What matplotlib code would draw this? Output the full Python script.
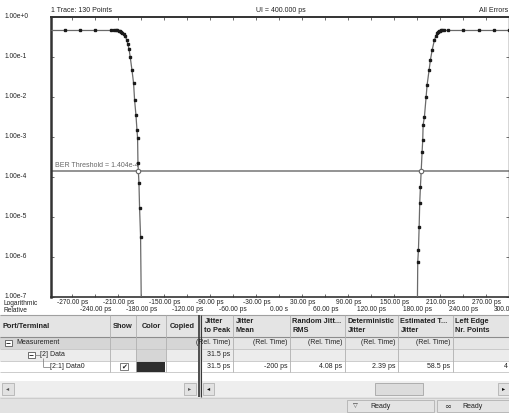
import matplotlib
matplotlib.use("Agg")
import matplotlib.pyplot as plt
from matplotlib.patches import Rectangle
from matplotlib.transforms import blended_transform_factory

plt.rcParams['font.family'] = ['Liberation Sans', 'DejaVu Sans']

# bathtub curve, left edge (time in ps, BER)
left_ps = [-300, -280, -260, -240, -220, -216, -213, -211, -209, -207.5, -206, -204.5,
           -203, -201, -199, -197.5, -196, -194.4, -192.1, -190.0, -188.7, -186.9,
           -185.6, -184.8, -184.3, -183.0, -182.2, -180.9, -179.5]
left_ber = [0.46, 0.46, 0.46, 0.46, 0.46, 0.46, 0.46, 0.46, 0.45, 0.44, 0.42, 0.40,
            0.37, 0.33, 0.27, 0.21, 0.16, 0.10, 0.047, 0.022, 8.4e-3, 3.5e-3,
            1.5e-3, 9.4e-4, 2.2e-4, 7e-5, 1.7e-5, 3.2e-6, 1e-8]

# bathtub curve, right edge
right_ps = [179.6, 180.4, 181.3, 182.2, 183.0, 183.9, 186.1, 186.9, 187.4, 189.1,
            191.3, 192.6, 195.2, 196.9, 199.2, 202.2, 204.0, 205.7, 207.0, 208.3,
            209.3, 210.5, 212, 215, 220, 240, 260, 280, 300]
right_ber = [1e-8, 7.6e-7, 1.5e-6, 5.5e-6, 2.3e-5, 5.7e-5, 4.3e-4, 8.4e-4, 2.0e-3, 3.2e-3,
             1.0e-2, 2.0e-2, 4.7e-2, 8.4e-2, 0.15, 0.27, 0.33, 0.39, 0.42, 0.44,
             0.45, 0.46, 0.46, 0.46, 0.46, 0.46, 0.46, 0.46, 0.46]

threshold = 1.404e-4
cross_ps = [-183.6, 184.6]

tick_ps = list(range(-270, 301, 30))
ytick_vals = [1e0, 1e-1, 1e-2, 1e-3, 1e-4, 1e-5, 1e-6, 1e-7]
ytick_labels = ['1.00e+0', '1.00e-1', '1.00e-2', '1.00e-3', '1.00e-4', '1.00e-5', '1.00e-6', '1.00e-7']

header_left = ['Port/Terminal', 'Show', 'Color', 'Copied']
header_right = ['Jitter\nto Peak', 'Jitter\nMean', 'Random Jitt...\nRMS',
                'Deterministic\nJitter', 'Estimated T...\nJitter', 'Left Edge\nNr. Points']
row_names = ['Measurement', '[2] Data', '[2:1] Data0']
row_meas = ['(Rel. Time)', '(Rel. Time)', '(Rel. Time)', '(Rel. Time)', '(Rel. Time)', '']
row_data = ['31.5 ps', '', '', '', '', '']
row_data0 = ['31.5 ps', '-200 ps', '4.08 ps', '2.39 ps', '58.5 ps', '4']

W, H = 510, 413
fig = plt.figure(figsize=(W / 100, H / 100), dpi=100)
fig.patch.set_facecolor('white')

# overlay in pixel coordinates for the window chrome / table
ov = fig.add_axes([0, 0, 1, 1])
ov.set_xlim(0, W)
ov.set_ylim(H, 0)
ov.axis('off')

FS = 5
TFS = 4.8


def box(x0, y0, x1, y1, fc, ec='none', lw=0.6):
    ov.add_patch(Rectangle((x0, y0), x1 - x0, y1 - y0, facecolor=fc, edgecolor=ec, linewidth=lw))


def hline(y, x0, x1, c='#b8b8b8', lw=0.6):
    ov.plot([x0, x1], [y, y], color=c, lw=lw, solid_capstyle='butt')


def vline(x, y0, y1, c='#b8b8b8', lw=0.6):
    ov.plot([x, x], [y0, y1], color=c, lw=lw, solid_capstyle='butt')


def txt(x, y, s, ha='left', **kw):
    kw.setdefault('fontsize', FS)
    kw.setdefault('color', '#222222')
    ov.text(x, y, s, ha=ha, va='center', **kw)


# ---- chart ----
ax = fig.add_axes([51.5 / W, 1 - 297 / H, 458 / W, 280 / H])
ax.set_yscale('log')
ax.set_ylim(1e-7, 1)
ax.set_xlim(-297, 300)

ax.axhline(threshold, color='#8a8a8a', lw=1.3, zorder=2)
for xs, ys in [(left_ps, left_ber), (right_ps, right_ber)]:
    ax.plot(xs, ys, color='#6a6a6a', lw=0.9, zorder=3)
    ax.plot(xs, ys, ls='none', marker='s', ms=1.5, color='#1a1a1a', zorder=4)
ax.plot(cross_ps, [threshold] * len(cross_ps), ls='none', marker='o', ms=3.2,
        mfc='white', mec='#666666', mew=0.8, zorder=5)
ax.text(-293, threshold * 1.12, 'BER Threshold = 1.404e-4', fontsize=FS, color='#666666',
        va='bottom', ha='left')

# x tick labels in two staggered rows
def fmt_ps(v):
    return '0.00 s' if v == 0 else f'{v:.2f} ps'

ax.set_xticks(tick_ps)
ax.set_xticklabels([fmt_ps(v) if i % 2 == 0 else '' for i, v in enumerate(tick_ps)],
                   fontsize=TFS, color='#222222')
ax.set_xticks([-150, 0, 150], minor=True)
ax.tick_params(axis='x', which='major', direction='in', length=2.5, width=0.6,
               top=True, pad=1.2, color='#555555')
ax.tick_params(axis='x', which='minor', direction='in', length=5, width=0.6,
               top=True, color='#555555')
row2 = blended_transform_factory(ax.transData, ov.transData)
for i, v in enumerate(tick_ps):
    if i % 2 == 1:
        if v == tick_ps[-1]:
            # the window cuts this last label off at its right border
            ax.text(v - 21, 309.8, fmt_ps(v)[:5], transform=row2, ha='left', va='center',
                    fontsize=TFS, color='#222222', clip_on=False)
        else:
            ax.text(v, 309.8, fmt_ps(v), transform=row2, ha='center', va='center',
                    fontsize=TFS, color='#222222', clip_on=False)

ax.set_yticks(ytick_vals)
ax.set_yticklabels(ytick_labels, fontsize=TFS, color='#222222')
ax.tick_params(axis='y', which='minor', left=False, right=False)
ax.tick_params(axis='y', which='major', direction='in', length=2.5, width=0.6,
               right=True, pad=33.5, color='#555555')
for lab in ax.get_yticklabels():
    lab.set_horizontalalignment('left')
    lab.set_verticalalignment('center')

for side, lw in [('left', 1.8), ('top', 1.4), ('bottom', 1.2), ('right', 1.0)]:
    ax.spines[side].set_linewidth(lw)
    ax.spines[side].set_color('#333333')

txt(51, 10, '1 Trace: 130 Points')
txt(256, 10, 'UI = 400.000 ps')
txt(508, 10, 'All Errors', ha='right')
txt(4, 303.8, 'Logarithmic', fontsize=TFS)
txt(4, 310.2, 'Relative', fontsize=TFS)

# ---- table ----
lcols = [0, 110, 136, 166, 198]
rcols = [202, 233, 290, 345, 398, 453, 510]
rows = [337, 349, 361, 372]
top = 315

box(0, top, W, rows[0], '#e4e4e4')
box(0, rows[0], 198, rows[1], '#d6d6d6')
box(202, rows[0], W, rows[1], '#e6e6e6')
box(0, rows[1], 198, rows[2], '#ececec')
box(136, rows[1], 166, rows[2], '#d6d6d6')
box(202, rows[1], W, rows[2], '#ececec')
box(0, rows[2], W, rows[3], 'white')
box(136.5, rows[2] + 0.5, 165.5, rows[3] - 0.5, '#2e2e2e')

hline(top, 0, W, '#a0a0a0', 0.8)
hline(rows[0], 0, W, '#8c8c8c', 0.8)
for y in rows[1:]:
    hline(y, 0, 198, '#c4c4c4')
    hline(y, 202, W, '#c4c4c4')
for x in lcols[1:-1]:
    vline(x, top, rows[-1], '#b0b0b0')
for x in rcols[1:-1]:
    vline(x, top, rows[-1], '#b0b0b0')

for i, name in enumerate(header_left):
    x0, x1 = lcols[i], lcols[i + 1]
    if i == 0:
        txt(x0 + 3, (top + rows[0]) / 2, name, fontweight='bold', fontsize=5.3)
    else:
        txt((x0 + x1) / 2, (top + rows[0]) / 2, name, ha='center', fontweight='bold', fontsize=5.3)
for i, name in enumerate(header_right):
    txt(rcols[i] + 2.5, (top + rows[0]) / 2, name, fontweight='bold', fontsize=5.3, linespacing=1.25)

# tree column
ym = [(rows[i] + rows[i + 1]) / 2 for i in range(3)]
box(5, ym[0] - 3, 12, ym[0] + 3, 'white', '#555555', 0.6)
hline(ym[0], 6.5, 10.5, '#333333', 0.7)
txt(16, ym[0], row_names[0])
box(28, ym[1] - 3, 35, ym[1] + 3, 'white', '#555555', 0.6)
hline(ym[1], 29.5, 33.5, '#333333', 0.7)
hline(ym[1], 35, 40, '#888888', 0.6)
txt(40.5, ym[1], row_names[1])
vline(43, ym[1] + 3, ym[2], '#888888', 0.6)
hline(ym[2], 43, 50, '#888888', 0.6)
txt(50.5, ym[2], row_names[2])
box(120, ym[2] - 3.5, 128, ym[2] + 3.5, 'white', '#666666', 0.6)
txt(124, ym[2], '\u2714', ha='center', fontsize=5, family=['DejaVu Sans'])

for vals, y in [(row_meas, ym[0]), (row_data, ym[1]), (row_data0, ym[2])]:
    for i, v in enumerate(vals):
        if v:
            txt(rcols[i + 1] - 2.5, y, v, ha='right')

# pane divider
box(198, top, 202, 397, '#cfcfcf')
vline(199, top, 397, '#3a3a3a', 1.2)
vline(201.5, top, 397, '#3a3a3a', 0.8)

# scroll bars
box(0, 381, 198, 397, '#eeeeee')
box(202, 381, W, 397, '#eeeeee')
box(2, 383, 14, 395, '#e2e2e2', '#a8a8a8', 0.5)
txt(8, 389, '\u25c2', ha='center', fontsize=4.5, family=['DejaVu Sans'], color='#555555')
box(184, 383, 196, 395, '#e2e2e2', '#a8a8a8', 0.5)
txt(190, 389, '\u25b8', ha='center', fontsize=4.5, family=['DejaVu Sans'], color='#555555')
box(203, 383, 214, 395, '#e2e2e2', '#a8a8a8', 0.5)
txt(208.5, 389, '\u25c2', ha='center', fontsize=4.5, family=['DejaVu Sans'], color='#111111')
box(375, 383, 423, 395, '#dcdcdc', '#999999', 0.5)
box(498, 383, 509, 395, '#e2e2e2', '#a8a8a8', 0.5)
txt(503.5, 389, '\u25b8', ha='center', fontsize=4.5, family=['DejaVu Sans'], color='#111111')

# status bar
box(0, 397, W, H, '#e2e2e2')
hline(397.5, 0, W, '#c8c8c8')
box(347, 400, 434, 412, '#e4e4e4', '#a8a8a8', 0.5)
txt(355, 406, '\u25bd', ha='center', fontsize=4.5, family=['DejaVu Sans'], color='#333333')
txt(370, 406, 'Ready')
box(437, 400, 509, 412, '#e4e4e4', '#a8a8a8', 0.5)
txt(448, 406, '\u221e', ha='center', fontsize=6, family=['DejaVu Sans'], color='#333333')
txt(462, 406, 'Ready')

fig.savefig('out.png', dpi=100)
